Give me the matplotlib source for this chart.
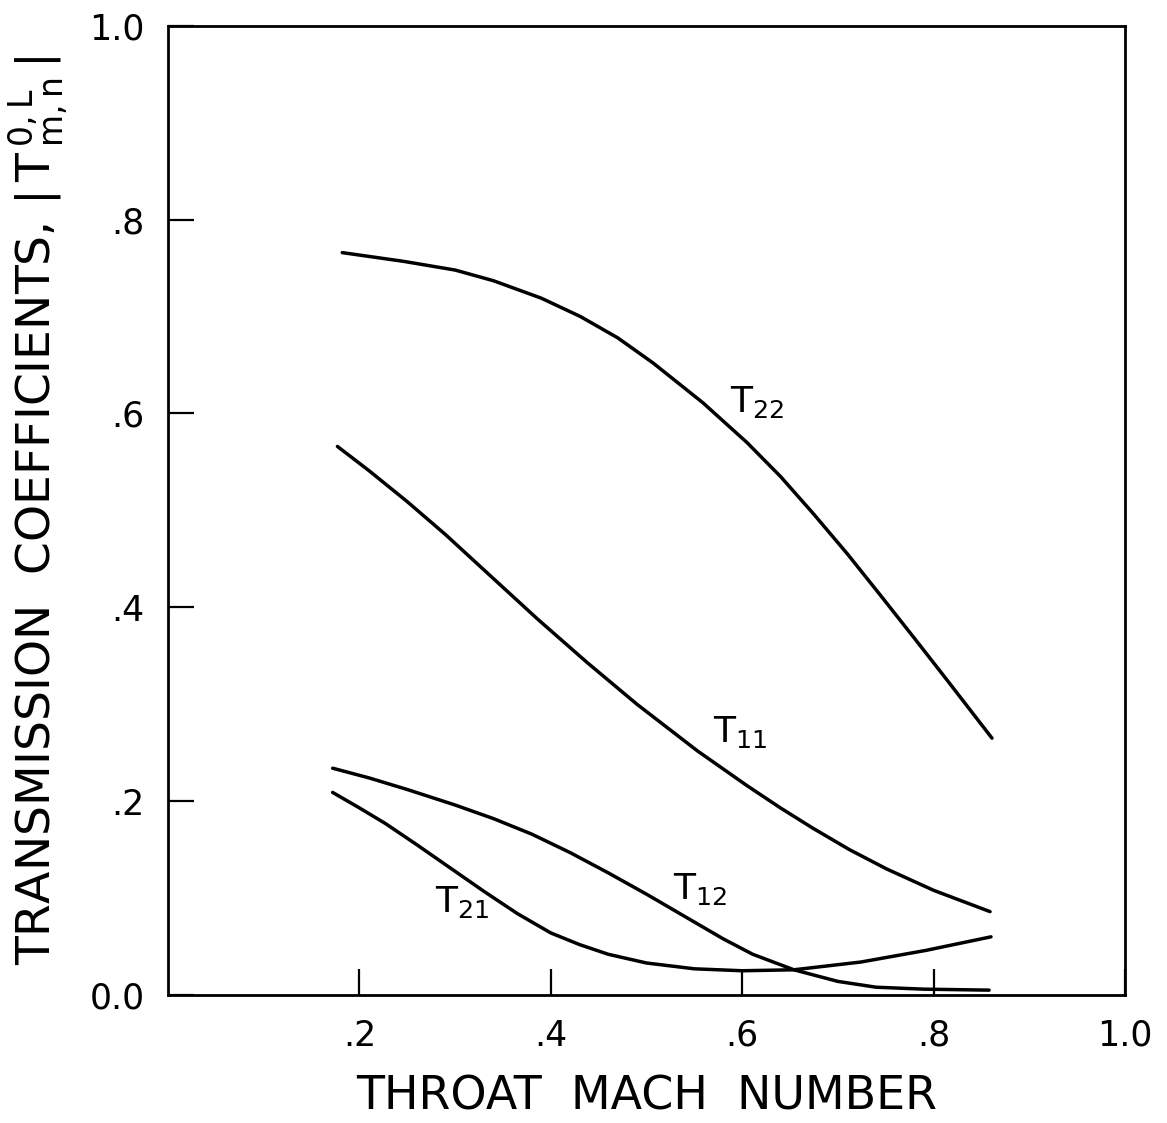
import matplotlib.pyplot as plt

# Values (throat Mach number vs |T|)
mach_22 = [0.182, 0.246, 0.300, 0.340, 0.390, 0.431, 0.470, 0.507, 0.559, 0.605, 0.640, 0.674, 0.710, 0.744, 0.780, 0.814, 0.861]
t22 = [0.766, 0.757, 0.748, 0.737, 0.719, 0.700, 0.678, 0.652, 0.611, 0.570, 0.535, 0.497, 0.455, 0.413, 0.368, 0.325, 0.265]

mach_11 = [0.177, 0.210, 0.250, 0.290, 0.333, 0.386, 0.438, 0.490, 0.553, 0.605, 0.640, 0.674, 0.712, 0.751, 0.800, 0.859]
t11 = [0.566, 0.541, 0.509, 0.475, 0.436, 0.388, 0.343, 0.300, 0.252, 0.216, 0.193, 0.172, 0.150, 0.130, 0.108, 0.086]

mach_12 = [0.172, 0.210, 0.250, 0.300, 0.340, 0.380, 0.420, 0.460, 0.500, 0.540, 0.580, 0.611, 0.654, 0.700, 0.740, 0.790, 0.858]
t12 = [0.234, 0.224, 0.212, 0.196, 0.182, 0.166, 0.147, 0.126, 0.104, 0.081, 0.058, 0.042, 0.026, 0.014, 0.008, 0.006, 0.005]

mach_21 = [0.172, 0.200, 0.227, 0.260, 0.295, 0.330, 0.365, 0.400, 0.430, 0.460, 0.500, 0.550, 0.600, 0.654, 0.724, 0.792, 0.860]
t21 = [0.209, 0.193, 0.177, 0.155, 0.131, 0.107, 0.084, 0.064, 0.052, 0.042, 0.033, 0.027, 0.025, 0.026, 0.034, 0.046, 0.060]

ticks = [0.2, 0.4, 0.6, 0.8, 1.0]
tick_labels = ['.2', '.4', '.6', '.8', '1.0']

plt.rcParams['font.family'] = 'DejaVu Sans'
plt.rcParams['mathtext.fontset'] = 'custom'
plt.rcParams['mathtext.rm'] = 'DejaVu Sans'
plt.rcParams['mathtext.it'] = 'DejaVu Sans'
plt.rcParams['mathtext.default'] = 'regular'

fig = plt.figure(figsize=(11.67, 11.23), dpi=100)
ax = fig.add_axes([0.144, 0.114, 0.820, 0.863])

for xs, ys in [(mach_22, t22), (mach_11, t11), (mach_12, t12), (mach_21, t21)]:
    ax.plot(xs, ys, color='black', lw=2.5, solid_capstyle='round', solid_joinstyle='round')

ax.set_xlim(0, 1.0)
ax.set_ylim(0, 1.0)
ax.set_xticks(ticks)
ax.set_xticklabels(tick_labels)
ax.set_yticks([0.0] + ticks)
ax.set_yticklabels(['0.0'] + tick_labels)

ax.tick_params(direction='in', length=19, width=1.6, labelsize=25, pad=17)
for spine in ax.spines.values():
    spine.set_linewidth(2.0)

# curve labels
lab = dict(fontsize=26, color='black', ha='left', va='center')
ax.text(0.587, 0.612, r'T$_{22}$', **lab)
ax.text(0.569, 0.271, r'T$_{11}$', **lab)
ax.text(0.528, 0.109, r'T$_{12}$', **lab)
ax.text(0.279, 0.096, r'T$_{21}$', **lab)

ax.set_xlabel('THROAT  MACH  NUMBER', fontsize=33, va='bottom')
ax.xaxis.set_label_coords(0.5, -0.129)
ax.set_ylabel(r'TRANSMISSION  COEFFICIENTS, $|\,T^{\,0,L}_{\,m,n}\,|$', fontsize=34, va='center')
ax.yaxis.set_label_coords(-0.136, 0.50)

fig.savefig('out.png', dpi=100)
